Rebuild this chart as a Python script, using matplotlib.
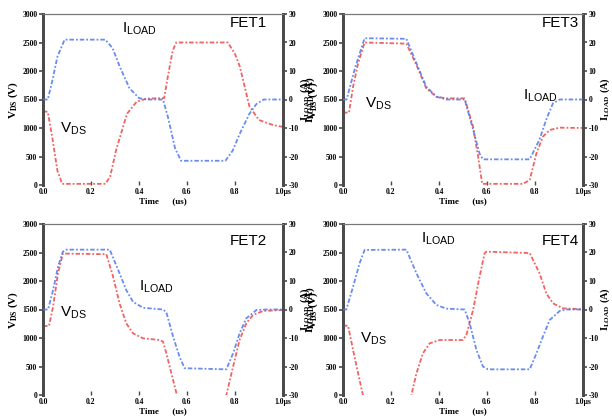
import matplotlib
matplotlib.use("Agg")
import matplotlib.pyplot as plt

# ---------------- data (time in us, V_DS in V, I_LOAD in A) ----------------
fet1_t_i = [0, 0.02, 0.04, 0.06, 0.09, 0.26, 0.29, 0.32, 0.36, 0.40, 0.43, 0.50, 0.52, 0.55, 0.575, 0.76, 0.79, 0.82, 0.86, 0.89, 0.92, 1.0]
fet1_i = [0, 0, 7, 15, 21, 21, 18, 11.5, 4, 0.5, 0, 0, -6, -17, -21.5, -21.5, -18, -12, -5, -1.5, 0, 0]
fet1_t_v = [0, 0.02, 0.04, 0.06, 0.08, 0.26, 0.28, 0.305, 0.35, 0.39, 0.43, 0.505, 0.52, 0.54, 0.555, 0.77, 0.80, 0.82, 0.86, 0.90, 0.96, 1.0]
fet1_v = [1300, 1280, 800, 250, 20, 20, 150, 620, 1250, 1460, 1515, 1525, 1900, 2350, 2500, 2500, 2300, 2080, 1380, 1140, 1050, 1020]

fet3_t_i = [0, 0.015, 0.05, 0.09, 0.264, 0.306, 0.347, 0.389, 0.43, 0.507, 0.535, 0.569, 0.583, 0.778, 0.819, 0.847, 0.875, 0.903, 1.0]
fet3_i = [0, 0, 11, 21.5, 21.3, 12.7, 4.5, 1, 0, 0, -8.4, -19, -21, -21, -14, -7, -1.3, 0, 0]
fet3_t_v = [0, 0.025, 0.042, 0.063, 0.09, 0.264, 0.306, 0.347, 0.389, 0.43, 0.507, 0.542, 0.563, 0.58, 0.75, 0.778, 0.806, 0.833, 0.861, 0.903, 1.0]
fet3_v = [1270, 1270, 1725, 2134, 2500, 2480, 2105, 1696, 1550, 1520, 1520, 1023, 497, 20, 20, 88, 556, 848, 965, 1006, 1000]

fet2_t_i = [0, 0.021, 0.042, 0.0625, 0.083, 0.097, 0.278, 0.319, 0.347, 0.375, 0.417, 0.5, 0.514, 0.542, 0.569, 0.59, 0.764, 0.792, 0.819, 0.847, 0.889, 0.93, 1.0]
fet2_i = [0, 0, 6.8, 15, 20.3, 21, 21, 12.7, 6.8, 2.7, 0.6, 0, -1, -9.5, -16.6, -20.6, -21, -15.4, -8.4, -3.1, -0.2, 0, 0]
fet2_t_v = [0, 0.025, 0.042, 0.0625, 0.083, 0.1, 0.264, 0.292, 0.319, 0.347, 0.375, 0.417, 0.486, 0.5, 0.514, 0.535, 0.556, 0.57, 0.75, 0.764, 0.792, 0.819, 0.847, 0.875, 0.917, 1.0]
fet2_v = [1211, 1211, 1550, 2134, 2485, 2480, 2470, 2076, 1608, 1257, 1082, 994, 965, 936, 731, 380, 29, -300, -300, 0, 497, 965, 1257, 1404, 1474, 1491]

fet4_t_i = [0, 0.014, 0.042, 0.069, 0.09, 0.264, 0.306, 0.347, 0.389, 0.43, 0.507, 0.528, 0.556, 0.583, 0.604, 0.778, 0.806, 0.833, 0.861, 0.903, 0.93, 1.0]
fet4_i = [0, 0, 8, 16.2, 20.9, 21, 12.7, 5.7, 1.6, 0.3, 0, -4.9, -14.2, -20, -21, -21, -15.4, -9.5, -3.7, -0.5, 0, 0]
fet4_t_v = [0, 0.021, 0.042, 0.069, 0.083, 0.1, 0.27, 0.285, 0.306, 0.333, 0.361, 0.403, 0.5, 0.514, 0.542, 0.569, 0.59, 0.597, 0.778, 0.819, 0.847, 0.875, 0.917, 1.0]
fet4_v = [1216, 1216, 790, 263, 0, -300, -300, 0, 380, 731, 906, 965, 965, 1053, 1491, 2076, 2485, 2515, 2490, 2134, 1784, 1608, 1520, 1503]

xticks = [0.0, 0.2, 0.4, 0.6, 0.8, 1.0]
xtick_labels = ["0.0", "0.2", "0.4", "0.6", "0.8", "1.0\u03bcs"]
vticks = [0, 500, 1000, 1500, 2000, 2500, 3000]
iticks = [-30, -20, -10, 0, 10, 20, 30]

panels = [
    dict(name="FET1", ti=fet1_t_i, i=fet1_i, tv=fet1_t_v, v=fet1_v,
         txt=[("I$_{\\mathregular{LOAD}}$", 0.33, 2600), ("FET1", 0.78, 2720), ("V$_{\\mathregular{DS}}$", 0.07, 850)],
         pos=(43, 14), both=False),
    dict(name="FET3", ti=fet3_t_i, i=fet3_i, tv=fet3_t_v, v=fet3_v,
         txt=[("V$_{\\mathregular{DS}}$", 0.09, 1280), ("I$_{\\mathregular{LOAD}}$", 0.75, 1420), ("FET3", 0.83, 2720)],
         pos=(343, 14), both=True),
    dict(name="FET2", ti=fet2_t_i, i=fet2_i, tv=fet2_t_v, v=fet2_v,
         txt=[("FET2", 0.78, 2580), ("I$_{\\mathregular{LOAD}}$", 0.40, 1750), ("V$_{\\mathregular{DS}}$", 0.07, 1290)],
         pos=(43, 224), both=False),
    dict(name="FET4", ti=fet4_t_i, i=fet4_i, tv=fet4_t_v, v=fet4_v,
         txt=[("I$_{\\mathregular{LOAD}}$", 0.325, 2600), ("FET4", 0.83, 2580), ("V$_{\\mathregular{DS}}$", 0.07, 850)],
         pos=(343, 224), both=True),
]

W, H = 612, 420
fig = plt.figure(figsize=(W / 100, H / 100), dpi=100)
serif = dict(family="Liberation Serif", weight="bold")
blue = "#4f78f0"
red = "#f04848"
spine_c = "#4a4a4a"
ls = (0, (2.5, 1.1, 1, 1.1))

for p in panels:
    x0, y0 = p["pos"]
    ax = fig.add_axes([x0 / W, 1 - (y0 + 171) / H, 240 / W, 171 / H])
    ax2 = ax.twinx()
    ax.plot(p["tv"], p["v"], color=red, lw=1.3, ls=ls, alpha=0.85, zorder=3)
    ax2.plot(p["ti"], p["i"], color=blue, lw=1.3, ls=ls, alpha=0.85, zorder=3)
    ax.set_xlim(0, 1.0)
    ax.set_ylim(0, 3000)
    ax2.set_ylim(-30, 30)
    ax.set_xticks(xticks)
    ax.set_xticklabels(xtick_labels, fontdict=dict(size=5.5, **serif))
    ax.set_yticks(vticks)
    ax.set_yticklabels([str(v) for v in vticks], fontdict=dict(size=5.5, **serif))
    ax2.set_yticks(iticks)
    ax2.set_yticklabels([str(v) for v in iticks], fontdict=dict(size=5.5, **serif))
    for a in (ax, ax2):
        a.spines["bottom"].set_visible(False)
        a.spines["top"].set_color("#777777")
        a.spines["top"].set_linewidth(0.8)
        a.spines["left"].set_color(spine_c)
        a.spines["left"].set_linewidth(2)
        a.spines["right"].set_color(spine_c)
        a.spines["right"].set_linewidth(2)
    ax.tick_params(axis="y", direction="out", length=3, width=1.2, color=spine_c, pad=1)
    ax2.tick_params(axis="y", direction="out", length=3, width=1.2, color=spine_c, pad=1)
    ax.tick_params(axis="x", direction="in", length=3, width=1, color=spine_c, pad=2)
    ax.set_xlabel("Time      (us)", fontdict=dict(size=6.5, **serif), labelpad=1)
    ax.set_ylabel("V$_{\\mathregular{DS}}$ (V)", fontdict=dict(size=8, **serif), labelpad=2)
    ax2.set_ylabel("I$_{\\mathregular{LOAD}}$ (A)", fontdict=dict(size=7.5, **serif), labelpad=0)
    if p["both"]:
        ax.text(-0.135, 0.5, "I$_{\\mathregular{LOAD}}$ (A)", transform=ax.transAxes, rotation=90,
                ha="center", va="center", fontsize=8, **serif)
    for s, tx, ty in p["txt"]:
        ax.text(tx, ty, s, fontsize=11, family="Liberation Sans", ha="left", va="bottom", zorder=5)

fig.savefig("out.png", dpi=100)
